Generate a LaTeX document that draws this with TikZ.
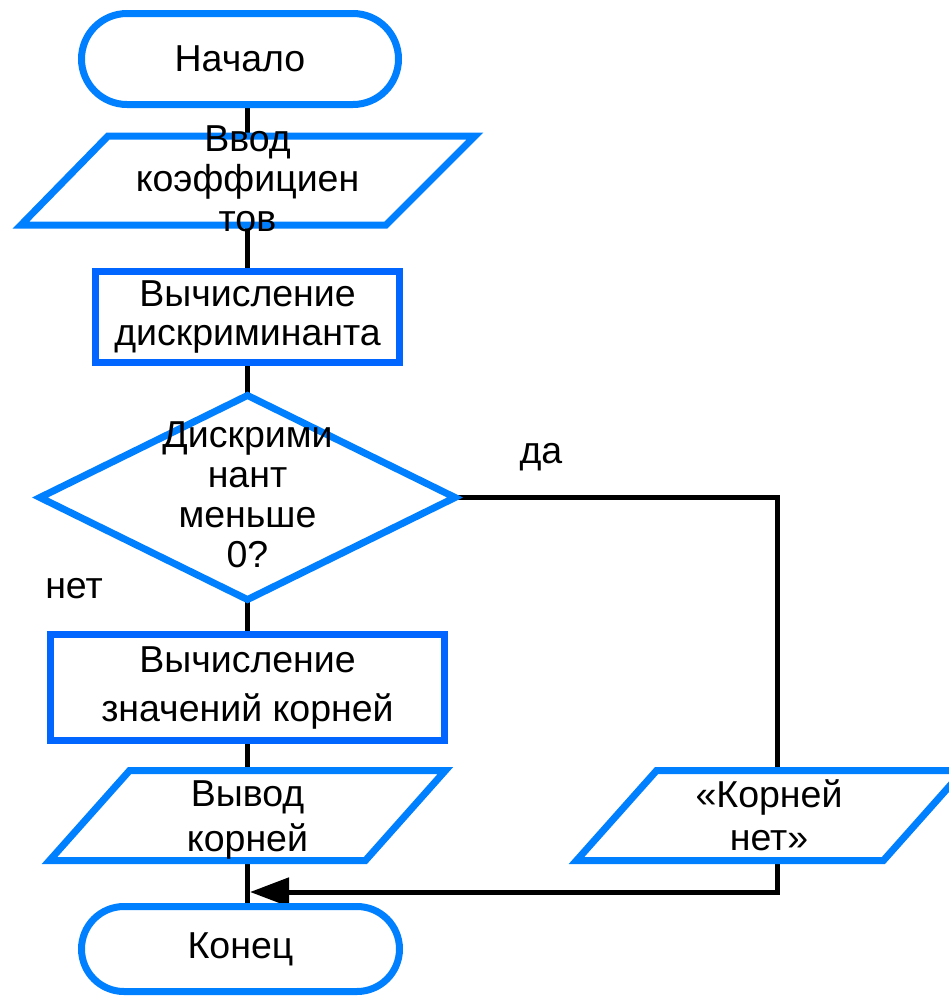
\documentclass[tikz,border=0pt]{standalone}
\usepackage{fontspec}
\setmainfont{Liberation Sans}
\usetikzlibrary{shapes.misc,shapes.geometric,arrows.meta,backgrounds}
\definecolor{termblue}{RGB}{0,128,255}
\definecolor{procblue}{RGB}{0,102,255}
\tikzset{
  txt/.style={font=\fontsize{37.5}{40}\selectfont, inner sep=0pt, align=center},
  termbox/.style={rounded rectangle, draw=termblue, line width=7pt, fill=white, txt},
  procbox/.style={rectangle, draw=procblue, line width=7pt, fill=white, txt},
  decbox/.style={diamond, draw=termblue, line width=7pt, fill=white, inner sep=0pt},
  iobox/.style={draw=termblue, line width=7pt, fill=white},
  flowline/.style={draw=black, line width=5pt},
  endarrow/.style={-{Triangle[length=39pt,width=28pt]}},
}
\begin{document}
\begin{tikzpicture}[x=1pt,y=-1pt]
\useasboundingbox (0,0) rectangle (949,997);

% terminals
\node[termbox, minimum width=317pt, minimum height=91pt] (start) at (240,59) {Начало};
\node[termbox, minimum width=318pt, minimum height=85pt] (stop) at (240.5,949) {Конец};

% input of the coefficients
\draw[iobox] (108,136) -- (475,136) -- (386,225) -- (21,225) -- cycle;
\node[txt] (in) at (247.5,179) {Ввод\\коэффициен\\тов};

% processes
\node[procbox, minimum width=304pt, minimum height=91pt, font=\fontsize{37.5}{39}\selectfont] (calc1) at (247.5,317) {Вычисление\\дискриминанта};
\node[procbox, minimum width=394pt, minimum height=106pt, font=\fontsize{37.5}{49}\selectfont] (calc2) at (247.5,687.5) {Вычисление\\значений корней};

% decision
\node[decbox, minimum width=418pt, minimum height=207pt] (dec) at (247.5,497.5) {};
\node[txt] (dectext) at (247.5,495) {Дискрими\\нант\\меньше\\0?};

% outputs
\draw[iobox] (129.6,770.5) -- (445.4,770.5) -- (365.4,860.5) -- (49.5,860.5) -- cycle;
\node[txt, font=\fontsize{37.5}{45}\selectfont] (out1) at (247.5,820) {Вывод\\корней};
\draw[iobox] (656.6,770.5) -- (963.4,770.5) -- (883.4,860.5) -- (576.5,860.5) -- cycle;
\node[txt, font=\fontsize{37.5}{43}\selectfont] (out2) at (769,815.5) {«Корней\\нет»};

% branch labels
\node[txt, anchor=base] (yeslbl) at (541,463) {да};
\node[txt, anchor=base] (nolbl) at (74,598) {нет};

% connectors
\coordinate (yesx) at (777,0);
\coordinate (merge) at (250,892);
\begin{pgfonlayer}{background}
\draw[flowline] (start.center -| in) -- (in.center);
\draw[flowline] (in.center) -- (calc1.center);
\draw[flowline] (calc1.center) -- (dec.center);
\draw[flowline] (dec.center) -- (calc2.center);
\draw[flowline] (calc2.center) -- (out1.center);
\draw[flowline] (out1.center) -- (stop.center -| out1);
\draw[flowline] (dec.center) -| (out2.center -| yesx);
\draw[flowline, endarrow] (out2.center -| yesx) |- (merge);
\end{pgfonlayer}
\end{tikzpicture}
\end{document}
